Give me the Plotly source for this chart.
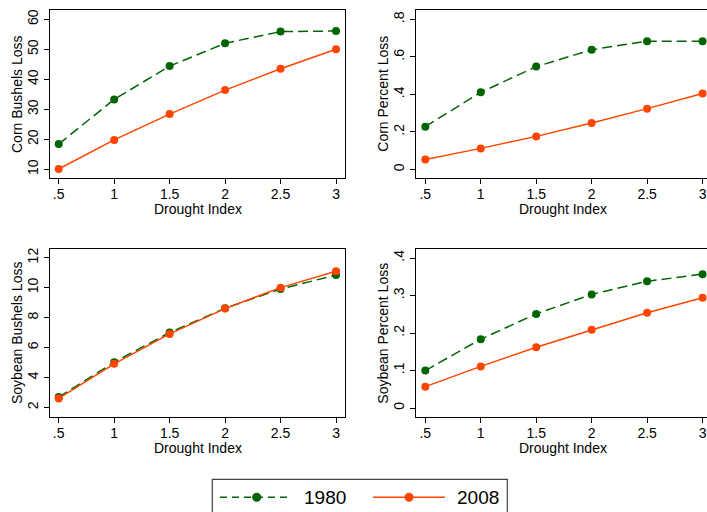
import plotly.graph_objects as go

# ---------------- data ----------------
drought = [0.5, 1.0, 1.5, 2.0, 2.5, 3.0]
drought_ticks = [".5", "1", "1.5", "2", "2.5", "3"]

corn_bushels_1980 = [18.4, 33.3, 44.4, 52.0, 55.9, 56.1]
corn_bushels_2008 = [10.1, 19.8, 28.4, 36.4, 43.5, 50.0]

corn_pct_1980 = [0.228, 0.411, 0.548, 0.638, 0.684, 0.684]
corn_pct_2008 = [0.053, 0.112, 0.176, 0.247, 0.324, 0.405]

soy_bushels_1980 = [2.69, 5.02, 7.00, 8.62, 9.91, 10.84]
soy_bushels_2008 = [2.60, 4.91, 6.91, 8.60, 10.00, 11.09]

soy_pct_1980 = [0.0998, 0.1835, 0.251, 0.303, 0.338, 0.357]
soy_pct_2008 = [0.057, 0.111, 0.162, 0.209, 0.254, 0.294]

series_names = ["1980", "2008"]

ytick_vals = {
    "y": [10, 20, 30, 40, 50, 60],
    "y2": [0, 0.2, 0.4, 0.6, 0.8],
    "y3": [2, 4, 6, 8, 10, 12],
    "y4": [0, 0.1, 0.2, 0.3, 0.4],
}
ytick_text = {
    "y": ["10", "20", "30", "40", "50", "60"],
    "y2": ["0", ".2", ".4", ".6", ".8"],
    "y3": ["2", "4", "6", "8", "10", "12"],
    "y4": ["0", ".1", ".2", ".3", ".4"],
}
ytitles = ["Corn Bushels Loss", "Corn Percent Loss",
           "Soybean Bushels Loss", "Soybean Percent Loss"]
xtitle = "Drought Index"

# ---------------- style ----------------
W, H = 707, 512
GREEN = "#006400"
ORANGE = "#FF4500"
FONT = "Liberation Sans, Arial, sans-serif"

def px(x):
    return x / W

def py(y):
    return 1 - y / H

# panel pixel boxes (left, right, top, bottom)
boxes = [
    (50, 345, 10, 178),
    (415.7, 707, 10, 178),
    (50, 345, 249, 417),
    (415.7, 707, 249, 417),
]
xranges = [[0.4215, 3.081], [0.4134, 3.040], [0.4215, 3.081], [0.4134, 3.040]]
yranges = [[7.1, 63.1], [-0.046, 0.85], [1.36, 12.58], [-0.024, 0.424]]

panels = [
    (corn_bushels_1980, corn_bushels_2008),
    (corn_pct_1980, corn_pct_2008),
    (soy_bushels_1980, soy_bushels_2008),
    (soy_pct_1980, soy_pct_2008),
]

fig = go.Figure()

for i, (s80, s08) in enumerate(panels):
    xa = "x" if i == 0 else f"x{i+1}"
    ya = "y" if i == 0 else f"y{i+1}"
    fig.add_trace(go.Scatter(
        x=drought, y=s80, xaxis=xa, yaxis=ya, mode="lines+markers",
        name=series_names[0], showlegend=False,
        line=dict(color=GREEN, width=1.5, dash="10px,5px"),
        marker=dict(color=GREEN, size=8),
        cliponaxis=False,
    ))
    fig.add_trace(go.Scatter(
        x=drought, y=s08, xaxis=xa, yaxis=ya, mode="lines+markers",
        name=series_names[1], showlegend=False,
        line=dict(color=ORANGE, width=1.5),
        marker=dict(color=ORANGE, size=8),
        cliponaxis=False,
    ))

layout = dict(
    width=W, height=H,
    margin=dict(l=0, r=0, t=0, b=0),
    paper_bgcolor="white", plot_bgcolor="white",
    font=dict(family=FONT, size=14, color="black"),
    showlegend=False,
)

annotations = []
for i, (l, r, t, b) in enumerate(boxes):
    xk = "xaxis" if i == 0 else f"xaxis{i+1}"
    yk = "yaxis" if i == 0 else f"yaxis{i+1}"
    yid = "y" if i == 0 else f"y{i+1}"
    xid = "x" if i == 0 else f"x{i+1}"
    common = dict(
        showline=True, linecolor="black", linewidth=1.3, mirror=True,
        ticks="outside", ticklen=5, tickwidth=1.2, tickcolor="black",
        showgrid=False, zeroline=False,
        tickfont=dict(family=FONT, size=14, color="black"),
    )
    layout[xk] = dict(
        domain=[px(l), min(px(r), 1.0)], range=xranges[i], anchor=yid,
        tickvals=drought, ticktext=drought_ticks, ticklabelstandoff=-2,
        **common,
    )
    layout[yk] = dict(
        domain=[py(b), py(t)], range=yranges[i], anchor=xid,
        tickvals=ytick_vals[yid], ticktext=ytick_text[yid], tickangle=-90,
        **common,
    )
    # axis titles
    full_r = r if i % 2 == 0 else 711
    annotations.append(dict(
        text=xtitle, xref="paper", yref="paper",
        x=px((l + full_r) / 2), y=py(b + 31), xanchor="center", yanchor="middle",
        showarrow=False, font=dict(family=FONT, size=14, color="black"),
    ))
    annotations.append(dict(
        text=ytitles[i], xref="paper", yref="paper",
        x=px(l - 33), y=py((t + b) / 2), xanchor="center", yanchor="middle",
        textangle=-90, showarrow=False,
        font=dict(family=FONT, size=14, color="black"),
    ))

# ---------------- legend (drawn manually) ----------------
leg_y = 497.3
shapes = [
    dict(type="rect", xref="paper", yref="paper",
         x0=px(212.3), x1=px(507.3), y0=py(479.3), y1=py(530),
         line=dict(color="#444444", width=1.2), fillcolor="rgba(0,0,0,0)"),
    dict(type="line", xref="paper", yref="paper",
         x0=px(220), x1=px(292), y0=py(leg_y), y1=py(leg_y),
         line=dict(color=GREEN, width=1.5, dash="7px,5px")),
    dict(type="line", xref="paper", yref="paper",
         x0=px(373), x1=px(445), y0=py(leg_y), y1=py(leg_y),
         line=dict(color=ORANGE, width=1.5)),
]
for cx, col in [(256.7, GREEN), (409, ORANGE)]:
    shapes.append(dict(
        type="circle", xref="paper", yref="paper",
        xsizemode="pixel", ysizemode="pixel",
        xanchor=px(cx), yanchor=py(leg_y),
        x0=-4.5, x1=4.5, y0=-4.5, y1=4.5,
        fillcolor=col, line=dict(color=col, width=0),
    ))
for lx, name in [(302, series_names[0]), (455, series_names[1])]:
    annotations.append(dict(
        text=name, xref="paper", yref="paper",
        x=px(lx), y=py(leg_y), xanchor="left", yanchor="middle",
        showarrow=False, font=dict(family=FONT, size=19, color="black"),
    ))

layout["annotations"] = annotations
layout["shapes"] = shapes
fig.update_layout(**layout)

fig.write_html(
    "out.html",
    config={"displayModeBar": False},
    post_script="document.body.style.margin='0';document.body.style.overflow='hidden';",
)
